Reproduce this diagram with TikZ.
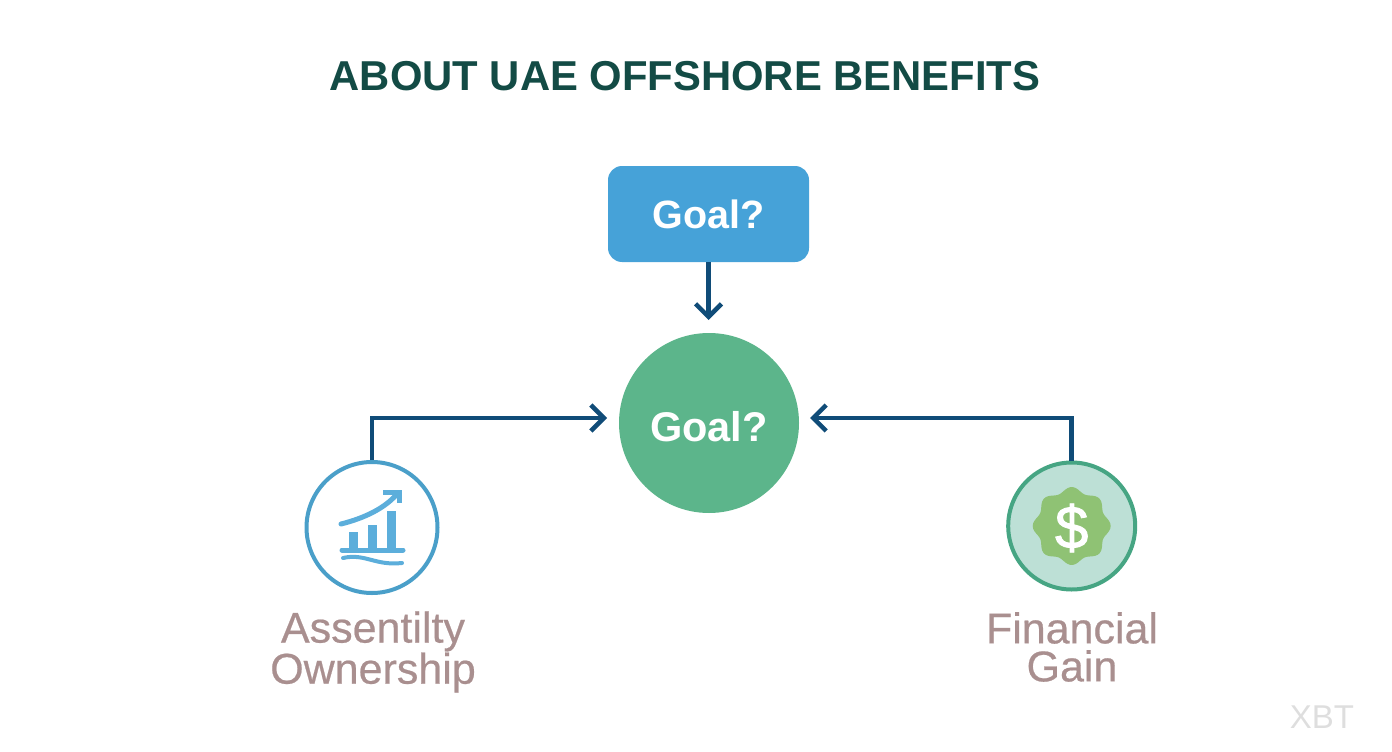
\documentclass[tikz,border=0pt]{standalone}
\usepackage{xcolor}
\usepackage{fontspec}
\setmainfont{Liberation Sans}
\newfontfamily\labelfont[FakeBold=0.5]{Liberation Sans}
\newfontfamily\dollarfont[FakeBold=1.5]{Liberation Sans}
\usetikzlibrary{arrows.meta}
\definecolor{titlegreen}{HTML}{134B45}
\definecolor{boxblue}{HTML}{46A2D8}
\definecolor{goalgreen}{HTML}{5CB58B}
\definecolor{flowblue}{HTML}{104C78}
\definecolor{ringblue}{HTML}{4A9FC9}
\definecolor{barblue}{HTML}{5CAEDB}
\definecolor{ringgreen}{HTML}{46A583}
\definecolor{palegreen}{HTML}{BDE0D6}
\definecolor{badgegreen}{HTML}{8FC274}
\definecolor{labeltaupe}{HTML}{A98F8F}
\tikzset{
  goaltext/.style={text=white, font=\fontsize{39.5}{44}\selectfont\bfseries, inner sep=0pt},
  labeltext/.style={text=labeltaupe, align=center, inner sep=0pt, font=\fontsize{43}{38}\selectfont\labelfont},
  flowline/.style={draw=flowblue, line width=4.5pt, -{Straight Barb[length=13pt,width=26pt]}},
  iconline/.style={draw=barblue, line width=5pt, line cap=round},
}
\begin{document}
\begin{tikzpicture}[x=1pt, y=-1pt]
  \useasboundingbox (0,0) rectangle (1392,752);

  \node[text=titlegreen, inner sep=0pt, font=\fontsize{41.8}{48}\selectfont\bfseries] (title) at (685,76) {ABOUT UAE OFFSHORE BENEFITS};

  \node[fill=boxblue, rounded corners=14pt, minimum width=201pt, minimum height=96pt, goaltext] (topbox) at (708.5,214) {Goal?};
  \node[circle, fill=goalgreen, minimum size=180pt, goaltext, font=\fontsize{41.5}{44}\selectfont\bfseries, text height=36pt, text depth=0pt] (goal) at (709,423) {Goal?};

  \node[circle, draw=ringblue, line width=4pt, fill=white, minimum size=131pt, inner sep=0pt] (assets) at (372,527.5) {};
  \node[circle, draw=ringgreen, line width=4pt, fill=palegreen, minimum size=127pt, inner sep=0pt] (gain) at (1071.7,526) {};

  \coordinate (topin) at (708.5,320);
  \coordinate (leftin) at (607,418);
  \coordinate (rightin) at (810,418);
  \draw[flowline] (topbox) -- (topin);
  \draw[flowline] (assets.north) |- (leftin);
  \draw[flowline] (gain.north) |- (rightin);

  % chart icon
  \fill[barblue] (349,532) rectangle (358,549);
  \fill[barblue] (368,525) rectangle (377,549);
  \fill[barblue] (387,511) rectangle (396,549);
  \draw[iconline] (342,550) -- (403,550);
  \draw[iconline, line width=4pt] (343,558) .. controls (365,553) and (375,566) .. (402,563);
  \draw[iconline] (341,524) .. controls (365,518) and (385,508) .. (397,494);
  \draw[iconline, line cap=butt] (383,492.5) -- (399,492.5) -- (399,503);

  % dollar badge
  \fill[badgegreen] plot[smooth cycle, domain=0:356, samples=90] ({1071.7+(36.5+2.5*cos(8*\x))*cos(\x)}, {526+(36.5+2.5*cos(8*\x))*sin(\x)});
  \node[text=white, inner sep=0pt, font=\fontsize{60}{60}\selectfont\dollarfont] (dollar) at (1071.7,528) {\$};

  \node[labeltext] (assetslabel) at (373,652) {Assentilty\\Ownership};
  \node[labeltext] (gainlabel) at (1072,647) {Financial\\Gain};

  \node[text=black!13, inner sep=0pt, font=\fontsize{33}{35}\selectfont] (mark) at (1322,717) {XBT};
\end{tikzpicture}
\end{document}
